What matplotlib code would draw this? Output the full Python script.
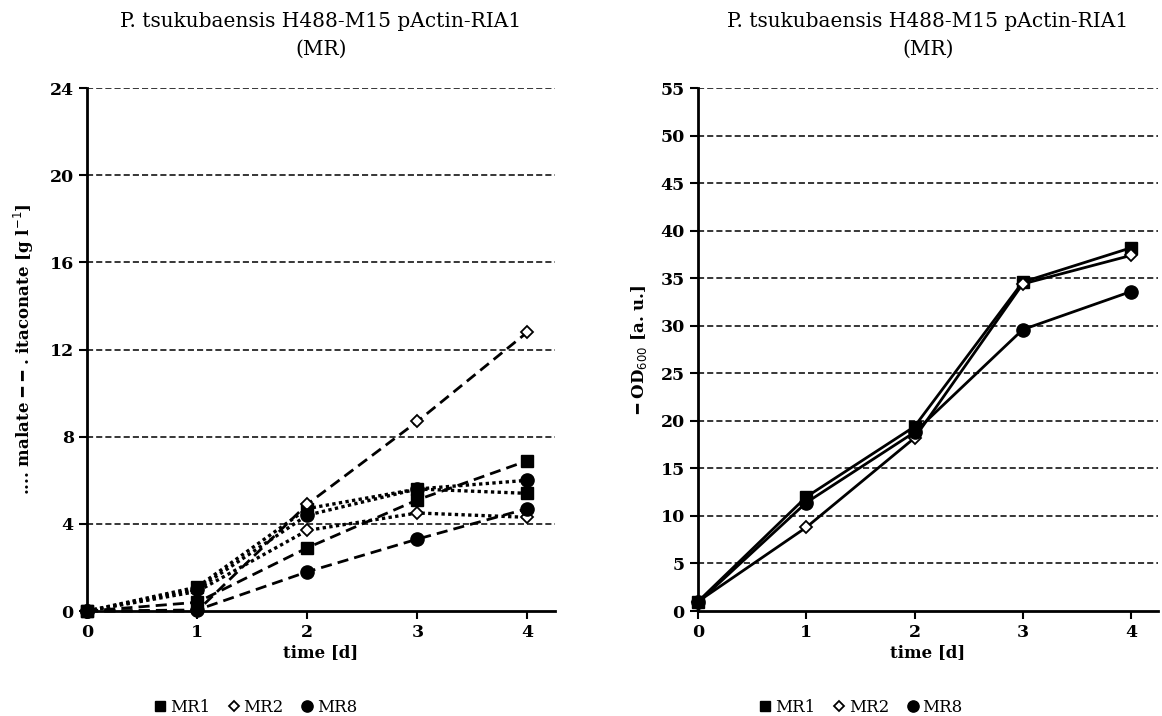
import numpy as np
import matplotlib
matplotlib.use("Agg")
import matplotlib.pyplot as plt
from matplotlib.lines import Line2D

# ---------------- data ----------------
days = [0, 1, 2, 3, 4]
strains = ["MR1", "MR2", "MR8"]

# itaconate [g/l] (dashed)
ita_mr1 = [0.0, 0.4, 2.9, 5.1, 6.9]
ita_mr2 = [0.0, 0.0, 4.9, 8.7, 12.8]
ita_mr8 = [0.0, 0.05, 1.8, 3.3, 4.7]

# malate [g/l] (dotted)
mal_mr1 = [0.0, 1.1, 4.7, 5.6, 5.4]
mal_mr2 = [0.0, 0.9, 3.7, 4.5, 4.3]
mal_mr8 = [0.0, 1.0, 4.4, 5.6, 6.0]

# OD600 (solid)
od_mr1 = [1.0, 12.0, 19.4, 34.6, 38.2]
od_mr2 = [1.0, 8.8, 18.2, 34.4, 37.4]
od_mr8 = [0.9, 11.4, 18.8, 29.6, 33.6]

title = "P. tsukubaensis H488-M15 pActin-RIA1\n(MR)"

# ---------------- style ----------------
plt.rcParams["font.family"] = ["DejaVu Serif", "DejaVu Sans"]
markers = {"MR1": dict(marker="s", ms=9, mfc="black", mec="black"),
           "MR2": dict(marker="D", ms=6.5, mfc="white", mec="black", mew=1.3),
           "MR8": dict(marker="o", ms=9.5, mfc="black", mec="black")}

fig = plt.figure(figsize=(11.62, 7.16), dpi=100)
ax1 = fig.add_axes([0.0749, 0.1466, 0.4027, 0.7304])
ax2 = fig.add_axes([0.6007, 0.1466, 0.3959, 0.7304])


def style_axis(ax, ymax, ystep):
    ax.set_xlim(0, 4.25)
    ax.set_ylim(0, ymax)
    ax.set_xticks(days)
    ax.set_yticks(np.arange(0, ymax + 0.1, ystep))
    for y in np.arange(ystep, ymax + 0.1, ystep):
        ax.axhline(y, color="black", lw=1.1, ls=(0, (4, 2)), zorder=1)
    for s in ["top", "right"]:
        ax.spines[s].set_visible(False)
    for s in ["left", "bottom"]:
        ax.spines[s].set_linewidth(2)
    ax.tick_params(axis="both", direction="out", width=1.5, length=6,
                   labelsize=12.5)
    for lab in ax.get_xticklabels() + ax.get_yticklabels():
        lab.set_fontweight("bold")
    ax.set_xlabel("time [d]", fontsize=12, fontweight="bold", labelpad=2)
    ax.set_title(title, fontsize=14.5, pad=24, linespacing=1.6)


# left panel: itaconate and malate
style_axis(ax1, 24, 4)
for name, ita, mal in zip(strains, [ita_mr1, ita_mr2, ita_mr8],
                          [mal_mr1, mal_mr2, mal_mr8]):
    ax1.plot(days, ita, color="black", lw=2, ls=(0, (4, 2.2)),
             clip_on=False, zorder=3, **markers[name])
    ax1.plot(days, mal, color="black", lw=2.4, ls=(0, (1, 1)),
             clip_on=False, zorder=3, **markers[name])
ax1.set_ylabel("\u2024\u2024\u2024\u2024 malate \u2501 \u2501 \u2024 itaconate [g l$^{-1}$]",
               fontsize=12, fontweight="bold", labelpad=10)

# right panel: OD600
style_axis(ax2, 55, 5)
for name, od in zip(strains, [od_mr1, od_mr2, od_mr8]):
    ax2.plot(days, od, color="black", lw=2, clip_on=False, zorder=3,
             **markers[name])
ax2.set_ylabel("\u2501 OD$_{600}$ [a. u.]", fontsize=12, fontweight="bold",
               labelpad=8)

# legends below each panel
handles = [Line2D([], [], ls="none", color="black",
                  **dict(markers[n], ms=markers[n]["ms"] * 0.85)) for n in strains]
for xc in [0.219, 0.74]:
    fig.legend(handles, strains, loc="center", bbox_to_anchor=(xc, 0.012),
               ncol=3, frameon=False, fontsize=12, handletextpad=0.1,
               columnspacing=0.9, handlelength=1.0)

fig.savefig("out.png", dpi=100)
